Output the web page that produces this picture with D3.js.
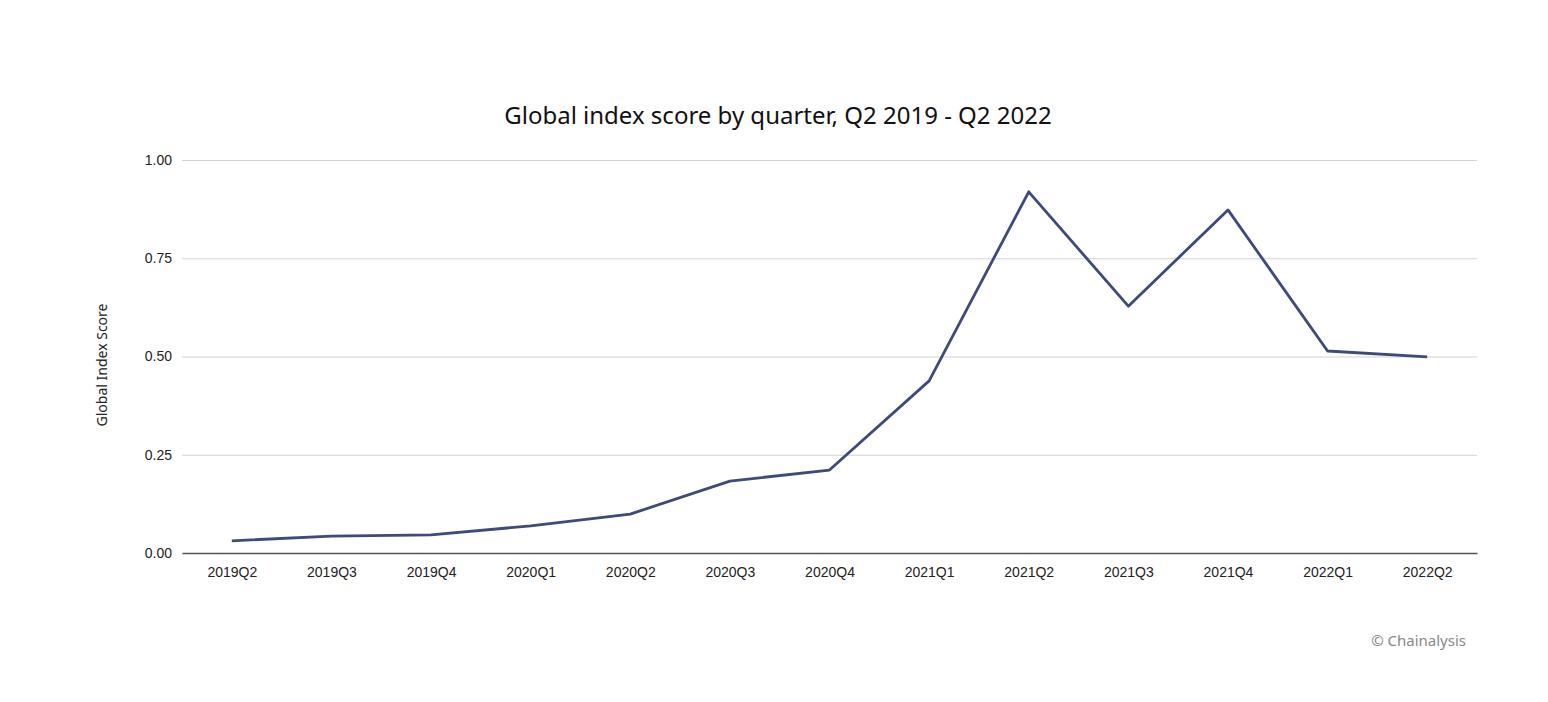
<!DOCTYPE html>
<html><head><meta charset="utf-8">
<script src="https://cdn.jsdelivr.net/npm/d3@7"></script>
<style>body{margin:0;background:#fff;font-family:"Noto Sans",sans-serif}</style>
</head><body><svg id="chart" width="1548" height="702"></svg>
<script>
const quarters = ["2019Q2","2019Q3","2019Q4","2020Q1","2020Q2","2020Q3","2020Q4","2021Q1","2021Q2","2021Q3","2021Q4","2022Q1","2022Q2"];
const scores = [0.031,0.043,0.046,0.069,0.099,0.183,0.211,0.438,0.919,0.628,0.873,0.514,0.499];
const yTicks = [0, 0.25, 0.5, 0.75, 1.0];

const svg = d3.select("#chart");
const margin = {left: 182, right: 71, top: 160, bottom: 149};
const width = 1548 - margin.left - margin.right;
const height = 702 - margin.top - margin.bottom;
const g = svg.append("g").attr("transform", `translate(${margin.left},${margin.top})`);

const x = d3.scalePoint().domain(quarters).range([0, width]).padding(0.5);
const y = d3.scaleLinear().domain([0, 1]).range([height, 0]);

// grid
g.append("g")
  .call(d3.axisLeft(y).tickValues(yTicks).tickFormat(d3.format(".2f")).tickSize(-width).tickPadding(10))
  .call(a => a.select(".domain").remove())
  .call(a => a.selectAll(".tick line").attr("stroke", "#d3d3d8").attr("stroke-width", 1.2))
  .call(a => a.selectAll("text").attr("font-size", 14).attr("fill", "#222"));

g.append("g").attr("transform", `translate(0,${height})`)
  .call(d3.axisBottom(x).tickSize(0).tickPadding(14))
  .call(a => a.select(".domain").attr("stroke", "#555").attr("stroke-width", 1.5))
  .call(a => a.selectAll("text").attr("font-size", 14).attr("fill", "#222"));

g.append("path").datum(scores)
  .attr("fill", "none").attr("stroke", "#3d4a7a").attr("stroke-width", 2.8)
  .attr("stroke-linejoin", "round")
  .attr("d", d3.line().x((d, i) => x(quarters[i])).y(d => y(d)));

svg.append("text").attr("x", 778).attr("y", 124).attr("text-anchor", "middle")
  .attr("font-size", 24).attr("fill", "#111").text("Global index score by quarter, Q2 2019 - Q2 2022");

svg.append("text").attr("transform", "translate(107,365) rotate(-90)").attr("text-anchor", "middle")
  .attr("font-size", 14).attr("fill", "#222").text("Global Index Score");

svg.append("text").attr("x", 1466).attr("y", 646).attr("text-anchor", "end")
  .attr("font-size", 15).attr("fill", "#888").text("© Chainalysis");
</script></body></html>
